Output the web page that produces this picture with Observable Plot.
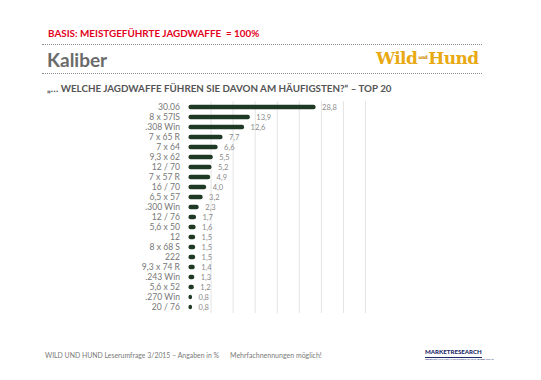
<!DOCTYPE html>
<html>
<head>
<meta charset="utf-8">
<script src="https://cdn.jsdelivr.net/npm/d3@7"></script>
<script src="https://cdn.jsdelivr.net/npm/@observablehq/plot@0.6"></script>
<style>
  html, body { margin: 0; padding: 0; background: #fff; }
  body { width: 541px; height: 380px; position: relative; overflow: hidden; font-family: Lato, "Open Sans", sans-serif; }
  .abs { position: absolute; white-space: nowrap; }
  #basis { left: 48px; top: 27px; font-size: 9.9px; font-weight: 700; color: #e3001b; }
  .dots { left: 42px; width: 440px; height: 0; border-top: 1.3px dotted #8a8a8a; }
  #title { left: 47px; top: 48px; font-size: 19px; font-weight: 700; color: #6b6b6b; }
  #question { left: 47px; top: 82px; font-size: 9.8px; font-weight: 700; color: #555; }
  #logo { left: 376px; top: 48px; font-family: "DejaVu Serif", serif; font-weight: 700; font-size: 17px; color: #e8a912; letter-spacing: -0.6px; }
  #logo small { font-size: 5px; color: #c98a00; vertical-align: 5px; margin: 0 1px; }
  #chart { left: 0; top: 95px; }
  #foot1 { left: 45px; top: 351px; font-size: 6.9px; color: #7a7a7a; }
  #foot2 { left: 230px; top: 351px; font-size: 7px; color: #7a7a7a; }
  #mr { left: 425px; top: 348px; font-size: 6.1px; font-weight: 900; color: #1d2a6b; }
  #mrline { left: 425px; top: 357px; width: 57px; border-top: 1px solid #1d2a6b; }
  #mrsub { left: 425px; top: 358px; font-size: 2.5px; color: #1d2a6b; }
</style>
</head>
<body>
<div class="abs" id="basis">BASIS: MEISTGEFÜHRTE JAGDWAFFE&nbsp; = 100%</div>
<div class="abs dots" style="top:44px"></div>
<div class="abs" id="title">Kaliber</div>
<div class="abs" id="logo">Wild<small>und</small>Hund</div>
<div class="abs dots" style="top:73px"></div>
<div class="abs" id="question">„… WELCHE JAGDWAFFE FÜHREN SIE DAVON AM HÄUFIGSTEN?“ – TOP 20</div>
<div class="abs" id="chart"></div>
<div class="abs" id="foot1">WILD UND HUND Leserumfrage 3/2015 – Angaben in %</div>
<div class="abs" id="foot2">Mehrfachnennungen möglich!</div>
<div class="abs" id="mr">MARKETRESEARCH</div>
<div class="abs" id="mrline"></div>
<div class="abs" id="mrsub">GESELLSCHAFT FÜR MARKTFORSCHUNG UND BERATUNG</div>
<script>
const calibers = ["30.06", "8 x 57IS", ".308 Win", "7 x 65 R", "7 x 64", "9,3 x 62", "12 / 70", "7 x 57 R", "16 / 70", "6,5 x 57", ".300 Win", "12 / 76", "5,6 x 50", "12", "8 x 68 S", "222", "9,3 x 74 R", ".243 Win", "5,6 x 52", ".270 Win", "20 / 76"];
const shares = [28.8, 13.9, 12.6, 7.7, 6.6, 5.5, 5.2, 4.9, 4.0, 3.2, 2.3, 1.7, 1.6, 1.5, 1.5, 1.5, 1.4, 1.3, 1.2, 0.8, 0.8];
const gridTicks = [5, 10, 15, 20, 25, 30, 35, 40];

const data = calibers.map((c, i) => ({caliber: c, value: shares[i]}));
const fmt = v => v.toFixed(1).replace(".", ",");

const chart = Plot.plot({
  width: 541,
  height: 220,
  marginLeft: 188.5,
  marginRight: 176,
  marginTop: 6,
  marginBottom: 2,
  style: {fontFamily: "Lato, 'Open Sans', sans-serif", background: "transparent"},
  x: {domain: [0, 40], axis: null},
  y: {domain: calibers, padding: 0.2, axis: null},
  marks: [
    Plot.ruleX(gridTicks, {stroke: "#e4e4e4", strokeWidth: 1}),
    Plot.barX(data, {x: "value", y: "caliber", fill: "#1e3a25", insetTop: 1.8, insetBottom: 1.8, rx: 2}),
    Plot.text(data, {x: "value", y: "caliber", text: d => fmt(d.value), textAnchor: "start", dx: 6, fill: "#8a8a8a", fontSize: 7.5}),
    Plot.axisY({tickSize: 0, tickPadding: 9, fontSize: 8.6, color: "#777", label: null})
  ]
});
document.getElementById("chart").appendChild(chart);
</script>
</body>
</html>
